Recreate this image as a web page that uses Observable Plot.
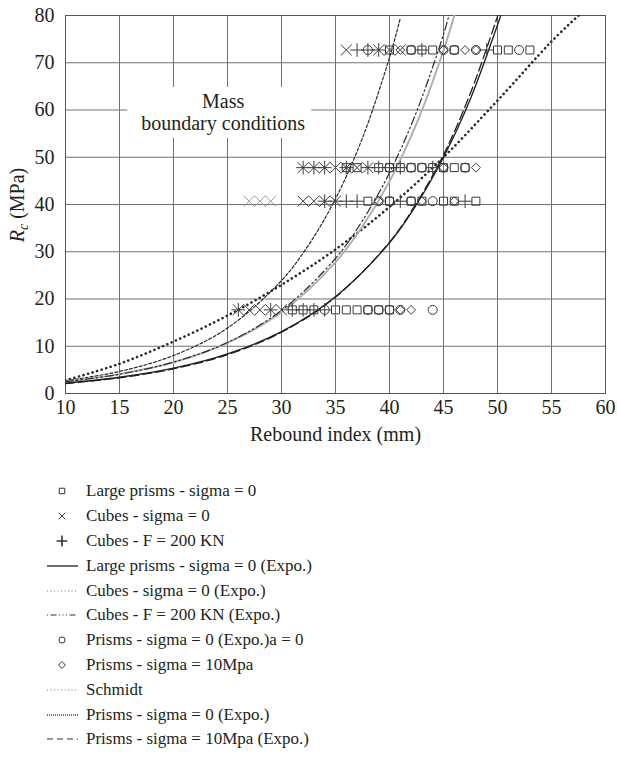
<!DOCTYPE html>
<html><head><meta charset="utf-8">
<script src="https://cdn.jsdelivr.net/npm/d3@7"></script>
<script src="https://cdn.jsdelivr.net/npm/@observablehq/plot@0.6"></script>
<style>
body{margin:0;background:#fff;font-family:"Liberation Serif","Times New Roman",serif;color:#231f20;}
#chart{width:617px;}
#chart svg text{font-family:"Liberation Serif","Times New Roman",serif !important;}
#legend{padding-top:24px;font-size:17px;}
.row{display:flex;align-items:center;height:24.8px;}
.row svg{margin-left:44px;flex:none;}
.row span{margin-left:6px;white-space:nowrap;}
</style></head><body>
<div id="chart"></div>
<div id="legend"></div>
<script>
// ---- tick values ----
const xTicks = [10, 15, 20, 25, 30, 35, 40, 45, 50, 55, 60];
const yTicks = [0, 10, 20, 30, 40, 50, 60, 70, 80];

// ---- measured rows (Rc levels) ----
const rowLevels = [17.7, 40.7, 47.8, 72.7];
// rebound indices per row, per series
const largePrismsRb = [[31,32,33,35,36,37,38,39,40],[38,40,42,43,45,46,48],[36,37,39,40,41,42,43,44,45,46,47],[40,42,43,44,46,50,51,53]];
const cubesSigma0Rb = [[26,27,28,29,30],[32,33,34,35],[32,33,34,35,36,37,38],[36,39,40,41]];
const cubesSigma0GreyRb = [[],[27,28,29],[],[]];
const cubesF200Rb = [[26,29,31,32,33,34],[34,35,36,37,41,47],[32,33,34,36,38,39,40,41,44],[37,38,39,43,49]];
const prismsA0Rb = [[34,38,39,40,41,44],[39,40,42,44],[40,42,43,45,47],[38,42,45,46,48,52]];
const prisms10Rb = [[41,42],[39,43,46],[45,48],[41,45,47,48]];

// ---- fitted curves ----
const largePrismsExpoX = [10,15,20,25,30,35,40,42.5,45,47.5,50,50.3];
const largePrismsExpoY = [2.2,3.44,5.37,8.39,13.1,20.5,31.9,40.0,50.0,62.4,78.0,80];
const prisms10ExpoX = [10,15,20,25,30,35,40,42.5,45,47.5,50,50.1];
const prisms10ExpoY = [2.1,3.32,5.23,8.22,12.96,20.4,32.0,40.3,50.5,63.6,79.8,80.5];
const cubesSigma0ExpoX = [10,15,20,25,30,32.5,35,37.5,40,41];
const cubesSigma0ExpoY = [2.7,4.67,8.04,13.85,23.9,31.4,41.2,54.1,71.1,79.4];
const cubesF200ExpoX = [10,15,20,25,30,35,37.5,40,42.5,45,45.5];
const cubesF200ExpoY = [2.5,4.08,6.63,10.8,17.6,28.6,36.6,46.7,59.6,76.0,80];
const prisms0ExpoX = [10,15,20,25,30,35,37.5,40,42.5,45,46];
const prisms0ExpoY = [2.5,4.1,6.6,10.7,17.2,27.8,35.4,44.9,57.1,72.6,80];
const schmidtX = [10,15,20,25,30,35,40,45,50,55,57.5];
const schmidtY = [2.8,6.3,11,16.5,23,30.5,39.5,50,62,74.5,80];

const annotationText = ["Mass\nboundary conditions"];
const annotationAt = [24.6, 59.6];

const legendLabels = [
  "Large prisms - sigma = 0","Cubes - sigma = 0","Cubes - F = 200 KN",
  "Large prisms - sigma = 0 (Expo.)","Cubes - sigma = 0 (Expo.)","Cubes - F = 200 KN (Expo.)",
  "Prisms - sigma = 0 (Expo.)a = 0","Prisms - sigma = 10Mpa","Schmidt",
  "Prisms - sigma = 0 (Expo.)","Prisms - sigma = 10Mpa (Expo.)"];

// ---- build tables ----
const pts = (rb) => rb.flatMap((xs, i) => xs.map(x => ({x, y: rowLevels[i]})));
const curve = (xs, ys) => xs.map((x, i) => ({x, y: ys[i]}));

const lineStyles = {
  largePrisms: {stroke:"#1e1e1e", strokeWidth:1.3},
  prisms10: {stroke:"#1e1e1e", strokeWidth:1.3, strokeDasharray:"9,4"},
  cubes0: {stroke:"#2a2a2a", strokeWidth:1.2, strokeDasharray:"3,2"},
  cubesF: {stroke:"#2a2a2a", strokeWidth:1.2, strokeDasharray:"8,3,1.5,3,1.5,3"},
  prisms0: {stroke:"#b0b0b0", strokeWidth:2},
  schmidt: {stroke:"#2a2a2a", strokeWidth:2.6, strokeDasharray:"0.1,4.6", strokeLinecap:"round"}
};
const dotStyle = {stroke:"#3a3a3a", strokeWidth:1, fill:"none", r:4.5};
const FONT = "'Liberation Serif', 'Times New Roman', serif";

const chart = Plot.plot({
  width: 617, height: 455,
  marginLeft: 65, marginRight: 12, marginTop: 15, marginBottom: 62,
  style: {fontFamily: FONT, fontSize: "20px", color: "#231f20", background: "#fff"},
  x: {domain: [10, 60]},
  y: {domain: [0, 80]},
  marks: [
    Plot.gridX(xTicks, {stroke: "#707070", strokeOpacity: 1}),
    Plot.gridY(yTicks, {stroke: "#707070", strokeOpacity: 1}),
    Plot.frame({stroke: "#555"}),
    Plot.axisX({ticks: xTicks, tickSize: 0, tickPadding: 6, fontSize: 20, fontFamily: FONT, label: "Rebound index (mm)", labelAnchor: "center", labelOffset: 47, labelArrow: "none"}),
    Plot.axisY({ticks: yTicks, tickSize: 0, tickPadding: 11, fontSize: 20, fontFamily: FONT, label: null}),
    Plot.text(annotationText, {x: () => annotationAt[0], y: () => annotationAt[1], text: d => d, fontSize: 20, fontFamily: FONT, lineHeight: 1.1, fill: "#231f20", className: "annot"}),
    Plot.line(curve(schmidtX, schmidtY), {x:"x", y:"y", curve:"catmull-rom", clip:true, ...lineStyles.schmidt}),
    Plot.line(curve(cubesSigma0ExpoX, cubesSigma0ExpoY), {x:"x", y:"y", curve:"catmull-rom", clip:true, ...lineStyles.cubes0}),
    Plot.line(curve(prisms0ExpoX, prisms0ExpoY), {x:"x", y:"y", curve:"catmull-rom", clip:true, ...lineStyles.prisms0}),
    Plot.line(curve(cubesF200ExpoX, cubesF200ExpoY), {x:"x", y:"y", curve:"catmull-rom", clip:true, ...lineStyles.cubesF}),
    Plot.line(curve(prisms10ExpoX, prisms10ExpoY), {x:"x", y:"y", curve:"catmull-rom", clip:true, ...lineStyles.prisms10}),
    Plot.line(curve(largePrismsExpoX, largePrismsExpoY), {x:"x", y:"y", curve:"catmull-rom", clip:true, ...lineStyles.largePrisms}),
    Plot.dot(pts(largePrismsRb), {x:"x", y:"y", symbol:"square", ...dotStyle}),
    Plot.dot(pts(cubesSigma0Rb), {x:"x", y:"y", symbol:"times", ...dotStyle, r:5}),
    Plot.dot(pts(cubesSigma0GreyRb), {x:"x", y:"y", symbol:"times", ...dotStyle, r:5, stroke:"#9a9a9a"}),
    Plot.dot(pts(cubesF200Rb), {x:"x", y:"y", symbol:"plus", ...dotStyle}),
    Plot.dot(pts(prismsA0Rb), {x:"x", y:"y", symbol:"circle", ...dotStyle}),
    Plot.dot(pts(prisms10Rb), {x:"x", y:"y", symbol:"diamond2", ...dotStyle, r:4})
  ]
});
document.getElementById("chart").append(chart);

const svgNode = chart.tagName.toLowerCase() === "svg" ? chart : chart.querySelector("svg");
const svg = d3.select(svgNode);

// white box behind the annotation (sized from the text itself)
const annotG = svgNode.querySelector("g.annot") || svgNode.querySelector(".annot");
if (annotG) {
  const bb = annotG.getBBox();
  d3.select(annotG).insert("rect", ":first-child")
    .attr("x", bb.x - 14).attr("y", bb.y - 3)
    .attr("width", bb.width + 20).attr("height", bb.height + 6)
    .attr("fill", "white");
}

// y-axis title with italic subscript
const yl = svg.append("text")
  .attr("transform", "translate(24,205) rotate(-90)")
  .attr("text-anchor", "middle")
  .attr("font-size", 20).attr("fill", "#231f20")
  .attr("font-family", FONT);
yl.append("tspan").attr("font-style", "italic").text("R");
yl.append("tspan").attr("font-style", "italic").attr("font-size", 14).attr("dy", 4).text("c");
yl.append("tspan").attr("dy", -4).text(" (MPa)");

// legend
const swatches = [
  {symbol: d3.symbolSquare}, {symbol: d3.symbolTimes}, {symbol: d3.symbolPlus, fill: true},
  {line: lineStyles.largePrisms}, {line: {stroke:"#777", strokeWidth:1, strokeDasharray:"1,2.5"}},
  {line: {stroke:"#333", strokeWidth:1, strokeDasharray:"1,2.5,6,2.5,1,2.5,1,2.5"}},
  {symbol: d3.symbolCircle}, {symbol: d3.symbolDiamond2},
  {line: {stroke:"#777", strokeWidth:1, strokeDasharray:"1,2.5"}},
  {line: {stroke:"#444", strokeWidth:1.4, strokeDasharray:"1,1"}},
  {line: {stroke:"#333", strokeWidth:1.2, strokeDasharray:"6,4"}}
];
const legend = d3.select("#legend");
legendLabels.forEach((lab, i) => {
  const row = legend.append("div").attr("class", "row");
  const s = row.append("svg").attr("width", 36).attr("height", 14);
  const sw = swatches[i];
  if (sw.symbol) {
    s.append("path").attr("transform", "translate(18,7)")
      .attr("d", d3.symbol(sw.symbol, sw.fill ? 40 : 30)())
      .attr("fill", "none").attr("stroke", "#333").attr("stroke-width", sw.fill ? 1.6 : 1);
  } else {
    const st = sw.line;
    s.append("line").attr("x1", 3).attr("x2", 34).attr("y1", 7).attr("y2", 7)
      .attr("stroke", st.stroke).attr("stroke-width", st.strokeWidth)
      .attr("stroke-dasharray", st.strokeDasharray || null);
  }
  row.append("span").text(lab);
});
</script>
</body></html>
